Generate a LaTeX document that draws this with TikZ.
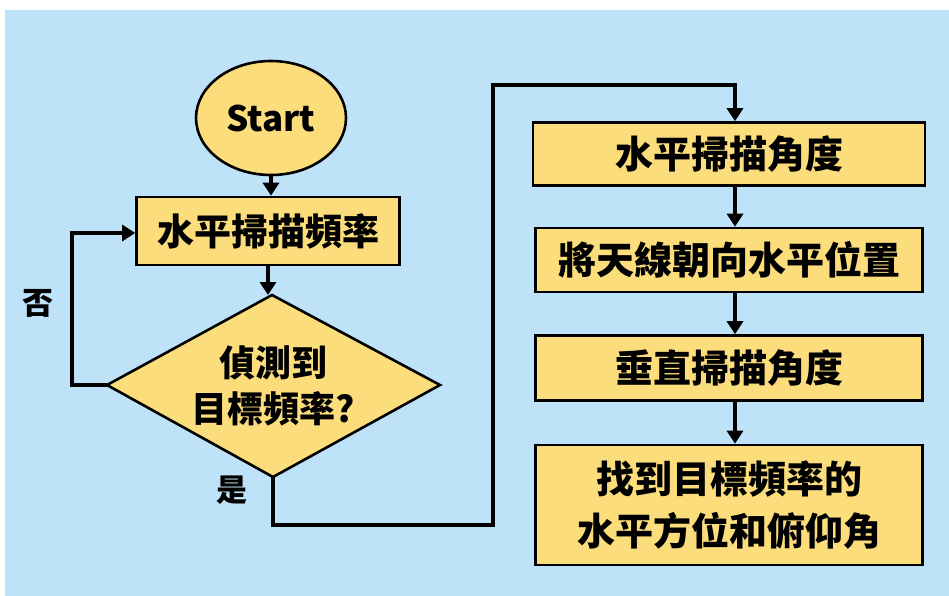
\documentclass[tikz,border=0pt]{standalone}
\usepackage{fontspec}
\setmainfont{Noto Sans CJK TC}
\usetikzlibrary{shapes.geometric,arrows.meta}
\definecolor{bgblue}{HTML}{BEE3F9}
\definecolor{boxyellow}{HTML}{FCDD7B}
\tikzset{
  flowbox/.style={draw=black, line width=2.6pt, fill=boxyellow, inner sep=0pt, font=\fontsize{37}{46}\selectfont\bfseries, align=center},
  conn/.style={line width=3.8pt, draw=black, -{Triangle[length=13pt,width=16pt]}},
  lbl/.style={font=\fontsize{31}{36}\selectfont\bfseries}
}
\begin{document}
\begin{tikzpicture}[x=1pt,y=-1pt]
\useasboundingbox (0,0) rectangle (949,596);
\fill[white] (0,0) rectangle (949,596);
\fill[bgblue] (5,10) rectangle (949,596);
\node[flowbox, ellipse, minimum width=150pt, minimum height=114pt, font=\fontsize{35}{42}\selectfont\bfseries] (start) at (271,118) {Start};
\node[flowbox, minimum width=263pt, minimum height=68pt] (b1) at (268,231) {水平掃描頻率};
% decision diamond
\coordinate (dt) at (272,295);
\coordinate (dl) at (107,385);
\coordinate (dr) at (440,385);
\coordinate (db) at (273,477);
\filldraw[draw=black, line width=2.6pt, fill=boxyellow, line join=miter] (dt) -- (dr) -- (db) -- (dl) -- cycle;
\node[font=\fontsize{36}{46}\selectfont\bfseries, align=center] (d) at (273,386) {偵測到\\目標頻率?};
\node[flowbox, font=\fontsize{38}{46}\selectfont\bfseries, minimum width=392pt, minimum height=63pt] (r1) at (729,154) {水平掃描角度};
\node[flowbox, font=\fontsize{38}{46}\selectfont\bfseries, minimum width=387pt, minimum height=64pt] (r2) at (729,260) {將天線朝向水平位置};
\node[flowbox, font=\fontsize{38}{46}\selectfont\bfseries, minimum width=387pt, minimum height=65pt] (r3) at (729,368) {垂直掃描角度};
\node[flowbox, font=\fontsize{38}{52}\selectfont\bfseries, minimum width=387pt, minimum height=120pt] (r4) at (729,505) {找到目標頻率的\\水平方位和俯仰角};
\node[lbl] (no) at (38,303) {否};
\node[lbl] (yes) at (232,490) {是};
\coordinate (l1) at (72,385);
\coordinate (l2) at (72,233);
\coordinate (c1) at (273,525);
\coordinate (c2) at (493,525);
\coordinate (c3) at (493,85);
\coordinate (c4) at (735,85);
\draw[conn] (start.south) -- (start.south |- b1.north);
\draw[conn] (b1.south) -- (b1.south |- dt);
\draw[conn, line join=miter] (dl) -- (l1) -- (l2) -- (l2 -| b1.west);
\draw[conn, line join=miter] (db) -- (c1) -- (c2) -- (c3) -- (c4) -- (c4 |- r1.north);
\draw[conn] (r1.south -| c4) -- (r2.north -| c4);
\draw[conn] (r2.south -| c4) -- (r3.north -| c4);
\draw[conn] (r3.south -| c4) -- (r4.north -| c4);
\end{tikzpicture}
\end{document}
